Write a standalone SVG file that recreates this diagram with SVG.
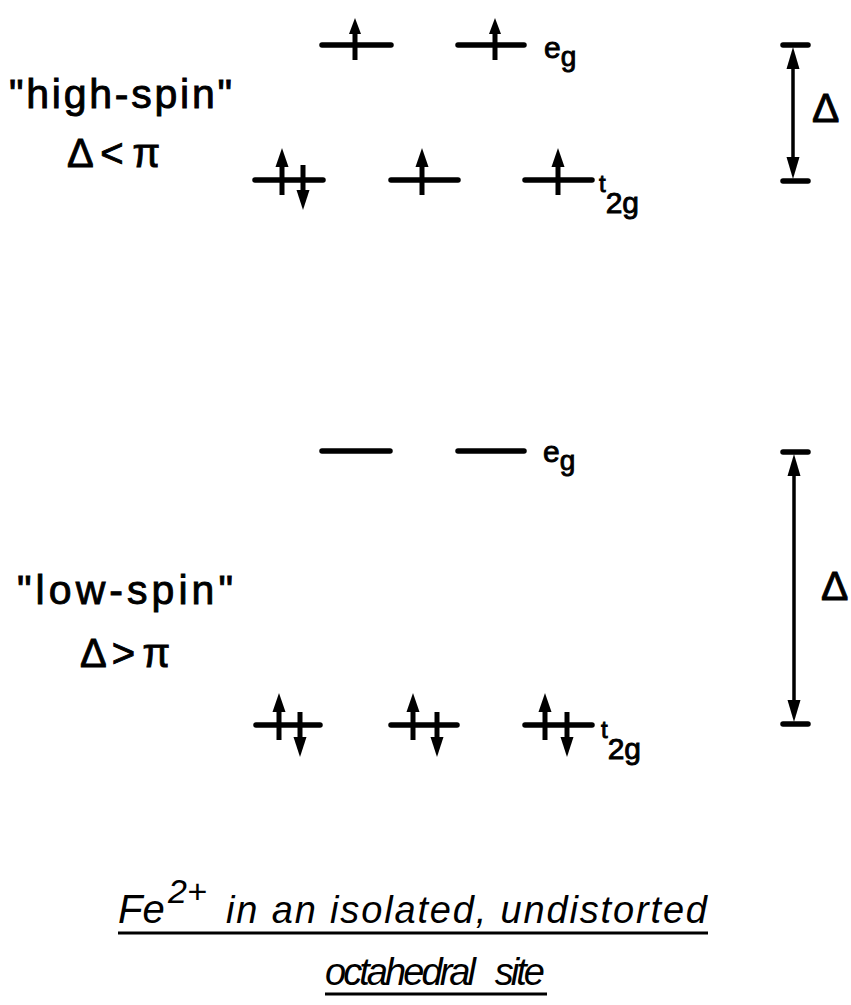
<svg xmlns="http://www.w3.org/2000/svg" width="851" height="1005" viewBox="0 0 851 1005">
<style>
.lvl{stroke:#000;stroke-width:5.5;stroke-linecap:round;fill:none}
.sh{stroke:#000;stroke-width:5;fill:none}
.hd{fill:#000}
.br{stroke:#000;stroke-width:3.5;fill:none}
.bar{stroke:#000;stroke-width:5.5;stroke-linecap:round}
.t{font-family:"Liberation Sans",Arial,sans-serif;fill:#000;stroke:#000;stroke-width:0.9}
.ti{font-family:"Liberation Sans",Arial,sans-serif;font-style:italic;fill:#000}
</style>
<defs>
<g id="up"><line class="sh" x1="0" y1="-16" x2="0" y2="15"/><polygon class="hd" points="0,-32 -6.5,-13 6.5,-13"/></g>
<g id="upe"><line class="sh" x1="0" y1="-12" x2="0" y2="15"/><polygon class="hd" points="0,-27 -6,-11 6,-11"/></g>
<g id="dn"><line class="sh" x1="0" y1="-15" x2="0" y2="13"/><polygon class="hd" points="0,30 -6.5,10 6.5,10"/></g>
</defs>
<rect width="851" height="1005" fill="#fff"/>

<g id="hs-eg">
<line class="lvl" x1="322" y1="45" x2="391" y2="45"/>
<line class="lvl" x1="458" y1="45" x2="524" y2="45"/>
<use href="#upe" x="355" y="45"/>
<use href="#upe" x="495" y="45"/>
<text class="t" x="544" y="58" font-size="30">e<tspan font-size="28" dy="8">g</tspan></text>
</g>
<g id="hs-t2g">
<line class="lvl" x1="255" y1="180" x2="323" y2="180"/>
<line class="lvl" x1="391" y1="180" x2="458" y2="180"/>
<line class="lvl" x1="525" y1="180" x2="592" y2="180"/>
<use href="#up" x="282" y="180"/>
<use href="#dn" x="303" y="180"/>
<use href="#up" x="422" y="180"/>
<use href="#up" x="558" y="180"/>
<text class="t" x="599" y="192" font-size="24">t<tspan font-size="30" dy="21">2g</tspan></text>
</g>
<g id="hs-label">
<text class="t" x="9" y="108" font-size="41" textLength="223" lengthAdjust="spacing">"high-spin"</text>
<text class="t" x="67" y="167" font-size="40" textLength="93" lengthAdjust="spacing">Δ &lt; π</text>
</g>
<g id="hs-delta">
<line class="bar" x1="783" y1="45" x2="808" y2="45"/>
<line class="bar" x1="783" y1="181" x2="808" y2="181"/>
<text class="t" x="812" y="122" font-size="41">Δ</text>
</g>

<g id="ls-eg">
<line class="lvl" x1="322" y1="451" x2="390" y2="451"/>
<line class="lvl" x1="458" y1="451" x2="524" y2="451"/>
<text class="t" x="543" y="462" font-size="30">e<tspan font-size="28" dy="8">g</tspan></text>
</g>
<g id="ls-t2g">
<line class="lvl" x1="256" y1="725" x2="320" y2="725"/>
<line class="lvl" x1="391" y1="725" x2="457" y2="725"/>
<line class="lvl" x1="525" y1="725" x2="592" y2="725"/>
<use href="#up" x="279" y="725"/>
<use href="#dn" x="300" y="727"/>
<use href="#up" x="413" y="725"/>
<use href="#dn" x="437" y="727"/>
<use href="#up" x="545" y="725"/>
<use href="#dn" x="567" y="727"/>
<text class="t" x="601" y="738" font-size="24">t<tspan font-size="30" dy="21">2g</tspan></text>
</g>
<g id="ls-label">
<text class="t" x="17" y="604" font-size="41" textLength="216" lengthAdjust="spacing">"low-spin"</text>
<text class="t" x="80" y="667" font-size="40" textLength="90" lengthAdjust="spacing">Δ &gt; π</text>
</g>
<g id="ls-delta">
<line class="bar" x1="783" y1="452" x2="808" y2="452"/>
<line class="bar" x1="783" y1="724" x2="808" y2="724"/>
<text class="t" x="821" y="600" font-size="41">Δ</text>
</g>

<g id="connectors">
<line class="br" x1="793" y1="62" x2="793" y2="164"/>
<polygon class="hd" points="793,47 786.5,69 799.5,69"/>
<polygon class="hd" points="793,179 786.5,157 799.5,157"/>
<line class="br" x1="794" y1="468" x2="794" y2="708"/>
<polygon class="hd" points="794,454 787.5,476 800.5,476"/>
<polygon class="hd" points="794,722 787.5,700 800.5,700"/>
</g>

<g id="title">
<text class="ti" x="118" y="923" font-size="40">Fe</text>
<text class="ti" x="168" y="903" font-size="34">2+</text>
<text class="ti" x="226" y="923" font-size="38" textLength="481" lengthAdjust="spacing">in an isolated, undistorted</text>
<line x1="118" y1="933" x2="708" y2="933" stroke="#000" stroke-width="3"/>
<text class="ti" x="325" y="985" font-size="38" word-spacing="14" textLength="220" lengthAdjust="spacing">octahedral site</text>
<line x1="325" y1="994" x2="547" y2="994" stroke="#000" stroke-width="3"/>
</g>
</svg>
